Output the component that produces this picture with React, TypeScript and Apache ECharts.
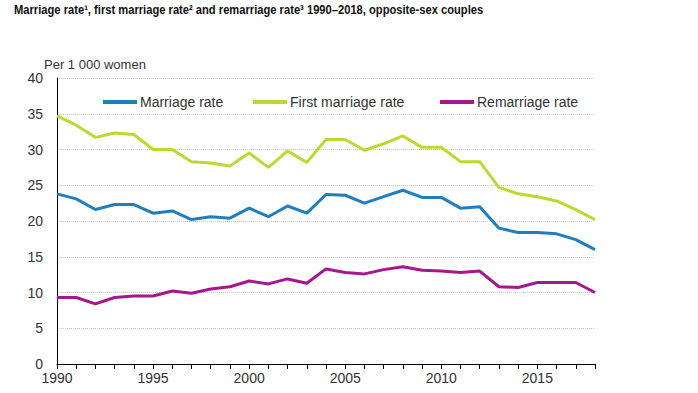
import React, { useEffect, useRef } from "react";
import * as echarts from "echarts";

const years = Array.from({ length: 29 }, (_, i) => String(1990 + i));

const marriageRate = [
  23.8, 23.1, 21.6, 22.3, 22.3, 21.1, 21.4, 20.2, 20.6, 20.4,
  21.8, 20.6, 22.1, 21.1, 23.7, 23.6, 22.5, 23.4, 24.3, 23.3,
  23.3, 21.8, 22.0, 19.0, 18.4, 18.4, 18.2, 17.4, 16.0,
];

const firstMarriageRate = [
  34.7, 33.4, 31.7, 32.3, 32.1, 30.0, 30.0, 28.3, 28.1, 27.7,
  29.5, 27.5, 29.8, 28.2, 31.4, 31.4, 29.9, 30.8, 31.9, 30.3,
  30.3, 28.3, 28.3, 24.7, 23.8, 23.4, 22.8, 21.6, 20.2,
];

const remarriageRate = [
  9.3, 9.3, 8.4, 9.3, 9.5, 9.5, 10.2, 9.9, 10.5, 10.8,
  11.6, 11.2, 11.9, 11.3, 13.3, 12.8, 12.6, 13.2, 13.6, 13.1,
  13.0, 12.8, 13.0, 10.8, 10.7, 11.4, 11.4, 11.4, 10.0,
];

const seriesNames = ["Marriage rate", "First marriage rate", "Remarriage rate"];
const colors = ["#1f7dc0", "#bfd730", "#a4178f"];

const titleText =
  "Marriage rate\u00b9, first marriage rate\u00b2 and remarriage rate\u00b3 1990\u20132018, opposite-sex couples";

export default function App() {
  const ref = useRef<HTMLDivElement>(null);
  useEffect(() => {
    if (!ref.current) return;
    const chart = echarts.init(ref.current, null, { renderer: "svg" });
    const font = "'Liberation Sans', Arial, sans-serif";
    const legendBase = {
      orient: "horizontal",
      top: 90,
      itemWidth: 34,
      itemHeight: 4,
      itemGap: 3,
      icon: "rect",
      textStyle: { fontFamily: font, fontSize: 14, color: "#333", padding: [0, 0, 0, -2] },
    };
    chart.setOption({
      animation: false,
      backgroundColor: "#ffffff",
      graphic: [
        {
          type: "text",
          x: 14,
          y: 3,
          scaleX: 0.86,
          style: {
            text: titleText,
            font: `bold 13px ${font}`,
            fill: "#111",
          },
        },
      ],
      legend: [
        { ...legendBase, left: 98, data: [seriesNames[0]] },
        { ...legendBase, left: 248, data: [seriesNames[1]] },
        { ...legendBase, left: 435, data: [seriesNames[2]] },
      ],
      grid: { left: 57, right: 103, top: 78, bottom: 29, containLabel: false },
      xAxis: {
        type: "category",
        data: years,
        boundaryGap: false,
        axisLine: { lineStyle: { color: "#000", width: 1 } },
        axisTick: { interval: 0, length: 5, lineStyle: { color: "#000" } },
        axisLabel: {
          interval: 4,
          fontFamily: font,
          fontSize: 14,
          color: "#333",
          margin: 7,
        },
        splitLine: { show: false },
      },
      yAxis: {
        type: "value",
        min: 0,
        max: 40,
        interval: 5,
        name: "Per 1 000 women",
        nameLocation: "end",
        nameGap: 6,
        nameTextStyle: {
          fontFamily: font,
          fontSize: 13,
          color: "#333",
          align: "left",
          padding: [0, 0, 0, -13],
        },
        axisLine: { show: true, lineStyle: { color: "#000", width: 1 } },
        axisTick: { show: false },
        axisLabel: { fontFamily: font, fontSize: 14, color: "#333", margin: 14 },
        splitLine: { lineStyle: { color: "#cccccc", type: "dotted", width: 1 } },
      },
      series: [marriageRate, firstMarriageRate, remarriageRate].map((d, i) => ({
        name: seriesNames[i],
        type: "line",
        data: d,
        symbol: "none",
        color: colors[i],
        lineStyle: { width: 3, color: colors[i] },
      })),
    });
    return () => chart.dispose();
  }, []);
  return <div ref={ref} style={{ width: 698, height: 393, position: "absolute", left: 0, top: 0 }} />;
}
